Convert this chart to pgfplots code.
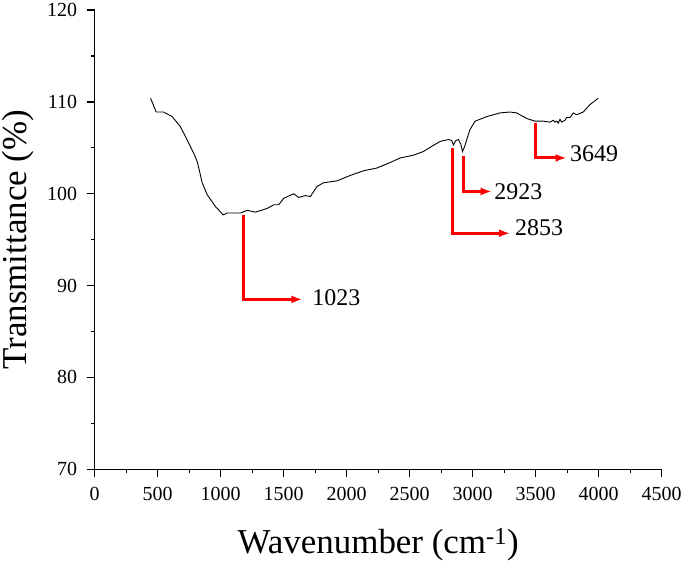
\documentclass[border=0pt]{standalone}
\usepackage{fontspec}
\setmainfont{Liberation Serif}
\usepackage{pgfplots}
\pgfplotsset{compat=1.18}
\usetikzlibrary{arrows.meta}
\begin{document}
\begin{tikzpicture}
\begin{axis}[
  scale only axis,
  width=568pt, height=460pt,
  xmin=0, xmax=4500, ymin=70, ymax=120,
  axis x line*=bottom, axis y line*=left,
  axis line style={line width=1.2pt, -},
  xtick={0,500,...,4500}, ytick={70,80,...,120},
  minor x tick num=1, minor y tick num=1,
  tick align=outside,
  major tick length=8pt, minor tick length=4pt,
  every tick/.style={black, line width=1.2pt},
  /pgf/number format/assume math mode=true,
  /pgf/number format/set thousands separator={},
  ticklabel style={font=\fontsize{20}{24}\selectfont},
  xticklabel style={yshift=-6pt},
  yticklabel style={xshift=-6pt},
  xlabel={Wavenumber (cm\textsuperscript{-1})},
  ylabel={Transmittance (\%)},
  label style={font=\fontsize{35}{40}\selectfont},
  xlabel style={inner sep=5.5pt, yshift=-19.5pt},
  ylabel style={inner sep=2pt, yshift=8pt},
  clip=false,
]
\addplot[black, line width=0.9pt] coordinates {
(444,110.4) (468,109.6) (488,108.9) (547,108.9) (615,108.4) (681,107.3)
(747,105.5) (790,104.3) (814,103.5) (835,102.3) (853,101.2) (893,99.9) (959,98.6) (1020,97.7)
(1051,97.9) (1157,97.9) (1210,98.2) (1276,98.0) (1369,98.4) (1421,98.8)
(1461,98.8) (1500,99.5) (1579,100.0) (1619,99.6) (1672,99.8) (1712,99.7)
(1765,100.8) (1817,101.2) (1923,101.4) (2029,102.0) (2134,102.5) (2240,102.8)
(2345,103.4) (2425,103.9) (2530,104.2) (2609,104.6) (2680,105.2) (2742,105.7)
(2808,105.9) (2834,105.8) (2847,105.3) (2858,105.6) (2868,105.8) (2887,105.9)
(2906,105.4) (2919,104.6) (2935,105.1) (2953,105.9) (2979,107.0) (3019,107.9)
(3112,108.4) (3217,108.8) (3296,108.9) (3349,108.8) (3428,108.2) (3494,107.9)
(3560,107.9) (3613,107.8) (3640,108.0) (3653,107.8) (3666,107.9) (3680,107.7)
(3693,108.1) (3706,107.8) (3719,107.9) (3732,108.0) (3745,108.3) (3772,108.3)
(3798,108.8) (3825,108.6) (3877,108.9) (3930,109.7) (3996,110.4)
};
\addplot[red, line width=3pt, -{Latex[length=11pt,width=8pt]}] coordinates {(1183,97.7) (1183,88.5) (1648,88.5)};
\addplot[red, line width=3pt, -{Latex[length=11pt,width=8pt]}] coordinates {(2840,105.0) (2840,95.7) (3296,95.7)};
\addplot[red, line width=3pt, -{Latex[length=11pt,width=8pt]}] coordinates {(2927,104.1) (2927,100.25) (3151,100.25)};
\addplot[red, line width=3pt, -{Latex[length=11pt,width=8pt]}] coordinates {(3500,107.75) (3500,103.9) (3745,103.9)};
\node[anchor=west, inner sep=0pt, font=\fontsize{24}{28}\selectfont] at (axis cs:1727,88.65) {1023};
\node[anchor=west, inner sep=0pt, font=\fontsize{24}{28}\selectfont] at (axis cs:3336,96.3) {2853};
\node[anchor=west, inner sep=0pt, font=\fontsize{24}{28}\selectfont] at (axis cs:3170,100.25) {2923};
\node[anchor=west, inner sep=0pt, font=\fontsize{24}{28}\selectfont] at (axis cs:3772,104.4) {3649};
\end{axis}
\end{tikzpicture}
\end{document}
